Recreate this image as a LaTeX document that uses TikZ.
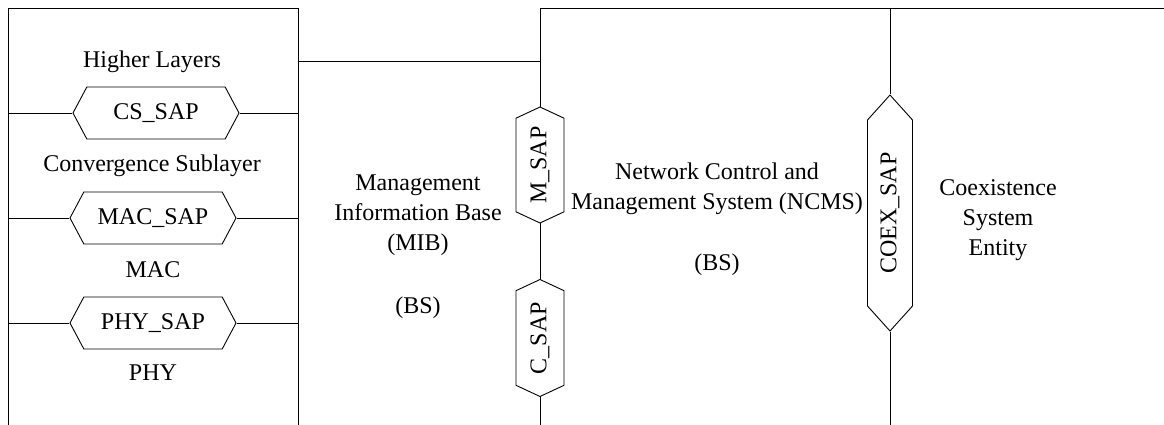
\documentclass[tikz,border=0pt]{standalone}
\usepackage{fontspec}
\setmainfont{Liberation Serif}
\usetikzlibrary{shapes.symbols}
\begin{document}
\begin{tikzpicture}[x=1pt,y=-1pt,
  line width=0.9pt,
  lbl/.style={font=\fontsize{24}{30}\selectfont, align=center, inner sep=0pt},
  hsap/.style={shape=signal, signal to=east and west, draw, line width=0.9pt,
    inner sep=0pt, minimum width=166pt, minimum height=52pt, signal pointer angle=124,
    font=\fontsize{24}{30}\selectfont},
  vsap/.style={shape=signal, signal to=east and west, draw, line width=0.9pt,
    inner sep=0pt, minimum height=48pt, rotate=90, signal pointer angle=130,
    font=\fontsize{24}{30}\selectfont}]
\useasboundingbox (0,0) rectangle (1164,425);

% frame corners and line ends
\coordinate (lt) at (8,8);
\coordinate (lb) at (8,425);
\coordinate (rt) at (298,8);
\coordinate (rb) at (298,425);
\coordinate (mibr) at (298,61);
\coordinate (nt) at (540,8);
\coordinate (nb) at (540,425);
\coordinate (et) at (1164,8);
\coordinate (ct) at (890,8);
\coordinate (cb) at (890,425);

% protocol stack box
\draw (lb) -- (lt) -- (rt) -- (rb);

% service access points of the stack
\node[hsap] (cssap)  at (156,113) {CS\_SAP};
\node[hsap] (macsap) at (153,218) {MAC\_SAP};
\node[hsap] (physap) at (153,323) {PHY\_SAP};
\foreach \s in {cssap,macsap,physap}{
  \draw (lt |- \s.west) -- (\s.west);
  \draw (\s.east) -- (rt |- \s.east);
}

\node[lbl] (hl)  at (152,62)  {Higher Layers};
\node[lbl] (cs)  at (152,166) {Convergence Sublayer};
\node[lbl] (mac) at (153,270) {MAC};
\node[lbl] (phy) at (153,373) {PHY};

% management information base
\node[vsap, minimum width=116pt] (msap) at (540,165) {M\_SAP};
\node[vsap, minimum width=117pt] (csap) at (540,338) {C\_SAP};
\draw (mibr) -- (nt |- mibr);
\draw (et) -- (nt) -- (msap.east);
\draw (msap.west) -- (csap.east);
\draw (csap.west) -- (nb);

\node[lbl] (mib) at (418,215) {Management\\Information Base\\(MIB)};
\node[lbl] (mibbs) at (418,308) {(BS)};

% NCMS and coexistence entity
\node[vsap, minimum width=236pt, minimum height=45pt, signal pointer angle=84] (coex) at (890,213) {COEX\_SAP};
\draw (ct) -- (coex.east);
\draw (coex.west) -- (cb);

\node[lbl] (ncms) at (717,189) {Network Control and\\Management System (NCMS)};
\node[lbl] (ncmsbs) at (717,265) {(BS)};
\node[lbl] (cse) at (998,220) {Coexistence\\System\\Entity};
\end{tikzpicture}
\end{document}
